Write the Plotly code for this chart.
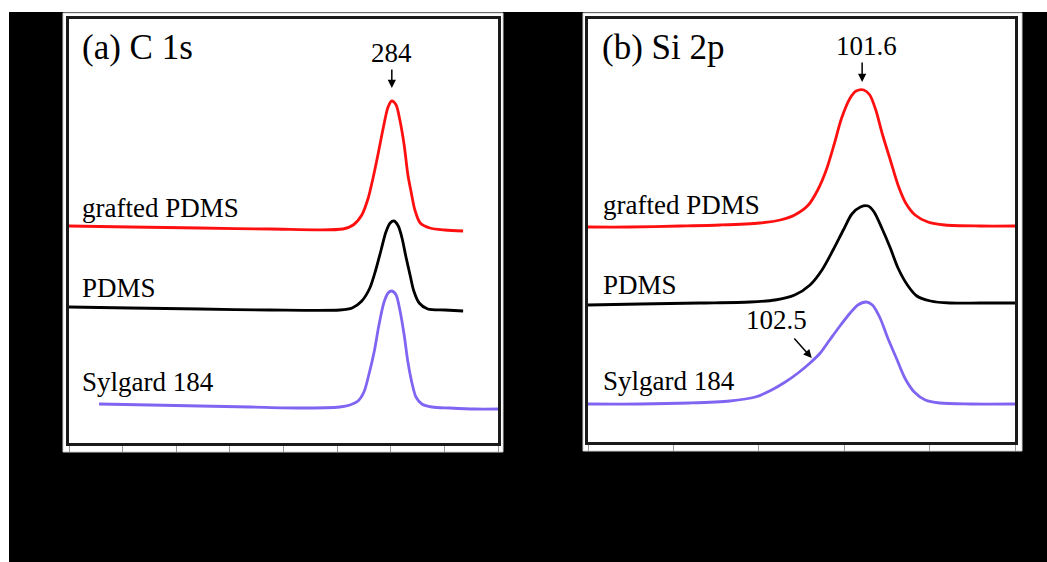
import plotly.graph_objects as go

# ---------------- data ----------------
# Panel (a) C 1s : binding energy (eV) and intensity (a.u., offset stacked)
c1s_grafted_x = [290.00, 288.86, 287.56, 286.25, 284.89, 284.70, 284.54, 284.42, 284.33, 284.24,
                 284.14, 284.05, 283.98, 283.90, 283.83, 283.75, 283.68, 283.62, 283.55, 283.45,
                 283.27, 282.99, 282.65]
c1s_grafted_y = [217, 216, 215, 214, 214, 218, 228, 245, 265, 288,
                 315, 336, 342, 338, 323, 298, 268, 251, 233, 220,
                 215, 213, 212]

c1s_pdms_x = [290.00, 288.86, 287.56, 286.25, 284.95, 284.72, 284.54, 284.39, 284.28, 284.18,
              284.09, 284.01, 283.94, 283.86, 283.79, 283.72, 283.64, 283.57, 283.47, 283.31,
              282.99, 282.65]
c1s_pdms_y = [136, 135, 134, 133, 133, 135, 142, 155, 173, 193,
              211, 220, 222, 217, 205, 187, 168, 152, 140, 134,
              133, 132]

c1s_sylgard_x = [289.44, 288.49, 287.56, 286.62, 285.69, 284.95, 284.76, 284.61, 284.50, 284.41,
                 284.31, 284.22, 284.13, 284.05, 283.98, 283.90, 283.83, 283.75, 283.68, 283.60,
                 283.53, 283.42, 283.23, 282.90, 282.43, 282.00]
c1s_sylgard_y = [39, 38, 37, 36, 35, 36, 38, 42, 51, 68,
                 91, 118, 140, 150, 152, 148, 133, 108, 81, 59,
                 46, 39, 36, 35, 34, 34]

# Panel (b) Si 2p
si2p_grafted_x = [105.00, 104.51, 103.92, 103.45, 102.99, 102.75, 102.58, 102.42, 102.31, 102.21,
                  102.12, 102.03, 101.93, 101.86, 101.77, 101.70, 101.63, 101.55, 101.46, 101.37,
                  101.28, 101.17, 101.02, 100.82, 100.41, 100.00]
si2p_grafted_y = [215, 215, 216, 217, 219, 222, 227, 237, 252, 272,
                  297, 324, 344, 351, 352, 347, 332, 307, 282, 257,
                  239, 227, 220, 217, 216, 216]

si2p_pdms_x = [105.00, 104.39, 103.69, 103.10, 102.81, 102.58, 102.40, 102.26, 102.13, 102.01,
               101.91, 101.81, 101.72, 101.65, 101.56, 101.46, 101.37, 101.26, 101.15, 100.99,
               100.76, 100.41, 100.00]
si2p_pdms_y = [137, 138, 139, 140, 142, 147, 157, 172, 192, 212,
               228, 235, 236, 230, 214, 194, 174, 157, 146, 141,
               139, 139, 139]

si2p_sylgard_x = [105.00, 104.39, 103.81, 103.34, 103.04, 102.85, 102.69, 102.54, 102.40, 102.28,
                  102.17, 102.05, 101.93, 101.84, 101.74, 101.67, 101.58, 101.49, 101.39, 101.29,
                  101.18, 101.05, 100.88, 100.53, 100.00]
si2p_sylgard_y = [38, 38, 39, 41, 45, 52, 60, 69, 79, 89,
                  102, 116, 129, 137, 140, 137, 124, 104, 84, 64,
                  50, 42, 39, 38, 38]

c1s_ticks = [290, 289, 288, 287, 286, 285, 284, 283, 282]
si2p_ticks = [105, 104, 103, 102, 101, 100]

series_names = ["grafted PDMS", "PDMS", "Sylgard 184"]
panel_titles = ["(a) C 1s", "(b) Si 2p"]

# ---------------- styling ----------------
RED = "#FF1010"
BLACK = "#000000"
PURPLE = "#8064F2"
FONT = "Liberation Serif"
W, H = 1047, 562

fig = go.Figure()

def add_curve(x, y, color, xa, ya, name):
    fig.add_trace(go.Scatter(x=x, y=y, mode="lines", name=name, showlegend=False,
                             line=dict(color=color, width=2.8, shape="spline", smoothing=0.8),
                             xaxis=xa, yaxis=ya))

add_curve(c1s_grafted_x, c1s_grafted_y, RED, "x", "y", series_names[0])
add_curve(c1s_pdms_x, c1s_pdms_y, BLACK, "x", "y", series_names[1])
add_curve(c1s_sylgard_x, c1s_sylgard_y, PURPLE, "x", "y", series_names[2])
add_curve(si2p_grafted_x, si2p_grafted_y, RED, "x2", "y2", series_names[0])
add_curve(si2p_pdms_x, si2p_pdms_y, BLACK, "x2", "y2", series_names[1])
add_curve(si2p_sylgard_x, si2p_sylgard_y, PURPLE, "x2", "y2", series_names[2])

def px_x(p):
    return p / W

def px_y(p):
    return 1 - p / H

shapes = [
    dict(type="rect", xref="paper", yref="paper", x0=px_x(9), x1=1, y0=0, y1=px_y(12),
         fillcolor="black", line=dict(width=0), layer="below"),
    dict(type="rect", xref="paper", yref="paper", x0=px_x(63), x1=px_x(503), y0=px_y(452), y1=px_y(13),
         fillcolor="white", line=dict(width=1, color="#d0d0d0"), layer="below"),
    dict(type="rect", xref="paper", yref="paper", x0=px_x(583), x1=px_x(1022), y0=px_y(451), y1=px_y(13),
         fillcolor="white", line=dict(width=1, color="#d0d0d0"), layer="below"),
]

axis_common = dict(showgrid=False, zeroline=False, showline=True, linecolor="#1a1a1a",
                   linewidth=3, mirror=True)

fig.update_layout(
    width=W, height=H,
    margin=dict(l=0, r=0, t=0, b=0),
    paper_bgcolor="white",
    plot_bgcolor="rgba(0,0,0,0)",
    shapes=shapes,
    xaxis=dict(domain=[px_x(69), px_x(498)], range=[290, 282], tickmode="array", tickvals=c1s_ticks,
               ticks="outside", ticklen=6, tickwidth=1, tickcolor="#999999", showticklabels=False,
               anchor="y", **axis_common),
    yaxis=dict(domain=[px_y(443), px_y(19)], range=[0, 424], showticklabels=False, ticks="",
               anchor="x", **axis_common),
    xaxis2=dict(domain=[px_x(588), px_x(1015)], range=[105, 100], tickmode="array", tickvals=si2p_ticks,
                ticks="outside", ticklen=6, tickwidth=1, tickcolor="#999999", showticklabels=False,
                anchor="y2", **axis_common),
    yaxis2=dict(domain=[px_y(442), px_y(19)], range=[0, 423], showticklabels=False, ticks="",
                anchor="x2", **axis_common),
)

def text_ann(x, y, text, xr, yr, size=27, xanchor="left"):
    fig.add_annotation(x=x, y=y, xref=xr, yref=yr, text=text, showarrow=False,
                       xanchor=xanchor, yanchor="middle",
                       font=dict(family=FONT, size=size, color="black"))

def arrow_ann(x, y, ax, ay, xr, yr):
    fig.add_annotation(x=x, y=y, ax=ax, ay=ay, xref=xr, yref=yr, axref=xr, ayref=yr,
                       text="", showarrow=True, arrowhead=2, arrowsize=1.1, arrowwidth=1.5,
                       arrowcolor="black")

# panel (a)
text_ann(289.79, 396, panel_titles[0], "x", "y", size=35)
text_ann(289.79, 235, series_names[0], "x", "y")
text_ann(289.79, 155, series_names[1], "x", "y")
text_ann(289.79, 61, series_names[2], "x", "y")
text_ann(283.98, 390, "284", "x", "y", xanchor="center")
arrow_ann(283.98, 355, 283.98, 375, "x", "y")

# panel (b)
text_ann(104.86, 395, panel_titles[1], "x2", "y2", size=35)
text_ann(104.85, 237, series_names[0], "x2", "y2")
text_ann(104.85, 157, series_names[1], "x2", "y2")
text_ann(104.85, 61, series_names[2], "x2", "y2")
text_ann(101.74, 396, "101.6", "x2", "y2", xanchor="center")
arrow_ann(101.79, 360, 101.79, 381, "x2", "y2")
text_ann(102.79, 122, "102.5", "x2", "y2", xanchor="center")
arrow_ann(102.38, 84, 102.60, 105, "x2", "y2")

fig.write_html("out.html")
